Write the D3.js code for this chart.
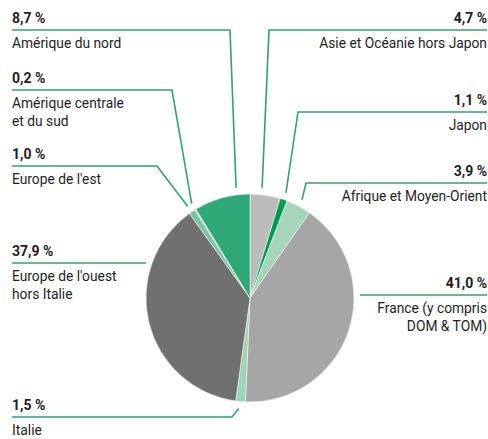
<!DOCTYPE html>
<html>
<head>
<meta charset="utf-8">
<script src="https://cdn.jsdelivr.net/npm/d3@7"></script>
<style>
  html, body { margin: 0; padding: 0; background: #fff; }
  svg { display: block; font-family: Roboto, "Liberation Sans", Arial, sans-serif; }
</style>
</head>
<body>
<div id="chart"></div>
<script>
// slices, clockwise from 12 o'clock
const regions = [
  'Asie et Océanie hors Japon',
  'Japon',
  'Afrique et Moyen-Orient',
  'France (y compris\nDOM & TOM)',
  'Italie',
  "Europe de l'ouest\nhors Italie",
  "Europe de l'est",
  'Amérique centrale\net du sud',
  'Amérique du nord'
];
const shares = [4.7, 1.1, 3.9, 41.0, 1.5, 37.9, 1.0, 0.2, 8.7];
const sliceColors = ['#bcbcbc', '#00994d', '#a5d5ba', '#a6a6a6', '#9fd4b6', '#707070', '#7cc4a0', '#cfcfcf', '#2ea877'];

// label placement: side, y of the rule, x of the elbow (null = straight rule), where the leader hits the slice
const labelLayout = [
  { side: 'right', lineY: 30,  elbowX: 269, frac: 0.37 },
  { side: 'right', lineY: 112, elbowX: 298, frac: 0.5 },
  { side: 'right', lineY: 183, elbowX: 306, frac: 0.5 },
  { side: 'right', lineY: 295, elbowX: null },
  { side: 'left',  lineY: 417, elbowX: 232, frac: 0.6 },
  { side: 'left',  lineY: 263, elbowX: null },
  { side: 'left',  lineY: 166, elbowX: 157, frac: 0.4 },
  { side: 'left',  lineY: 90,  elbowX: 172, frac: 0.5 },
  { side: 'left',  lineY: 30,  elbowX: 230, frac: 0.77 }
];

const width = 488, height = 439;
const cx = 250, cy = 298, r = 104;
const leftX = 12, rightX = 487;
const green = '#2ea471';

const fr = d3.formatLocale({ decimal: ',', thousands: ' ', grouping: [3], currency: ['', ' €'] });
const pct = v => fr.format('.1f')(v) + ' %';

const data = regions.map((name, i) => ({ name, value: shares[i], color: sliceColors[i], layout: labelLayout[i] }));

const svg = d3.select('#chart').append('svg')
  .attr('width', width)
  .attr('height', height);

const pie = d3.pie().value(d => d.value).sort(null);
const arcs = pie(data);
const arc = d3.arc().innerRadius(0).outerRadius(r);

const g = svg.append('g').attr('transform', `translate(${cx},${cy})`);
g.selectAll('path')
  .data(arcs)
  .enter()
  .append('path')
  .attr('d', arc)
  .attr('fill', d => d.data.color)
  .attr('stroke', '#fff')
  .attr('stroke-width', 0.5);

// leader lines
const rLead = r + 7;
arcs.forEach(a => {
  const L = a.data.layout;
  let pts;
  if (L.elbowX === null) {
    const dy = L.lineY - cy;
    const dx = Math.sqrt(r * r - dy * dy) + 6;
    pts = L.side === 'left'
      ? [[leftX, L.lineY], [cx - dx, L.lineY]]
      : [[cx + dx, L.lineY], [rightX, L.lineY]];
  } else {
    const ang = a.startAngle + L.frac * (a.endAngle - a.startAngle);
    const end = [cx + rLead * Math.sin(ang), cy - rLead * Math.cos(ang)];
    pts = L.side === 'left'
      ? [[leftX, L.lineY], [L.elbowX, L.lineY], end]
      : [[rightX, L.lineY], [L.elbowX, L.lineY], end];
  }
  svg.append('path')
    .attr('d', d3.line()(pts))
    .attr('fill', 'none')
    .attr('stroke', green)
    .attr('stroke-width', 1.6);
});

// labels
arcs.forEach(a => {
  const L = a.data.layout;
  const x = L.side === 'left' ? leftX : rightX;
  const anchor = L.side === 'left' ? 'start' : 'end';
  svg.append('text')
    .attr('x', x)
    .attr('y', L.lineY - 7)
    .attr('text-anchor', anchor)
    .attr('font-size', 14)
    .attr('font-weight', 'bold')
    .attr('fill', '#1e1e1e')
    .text(pct(a.data.value));
  const t = svg.append('text')
    .attr('x', x)
    .attr('y', L.lineY + 18)
    .attr('text-anchor', anchor)
    .attr('font-size', 13.8)
    .attr('fill', '#1e1e1e');
  a.data.name.split('\n').forEach((line, i) => {
    t.append('tspan')
      .attr('x', x)
      .attr('dy', i === 0 ? 0 : 17.5)
      .text(line);
  });
});
</script>
</body>
</html>
